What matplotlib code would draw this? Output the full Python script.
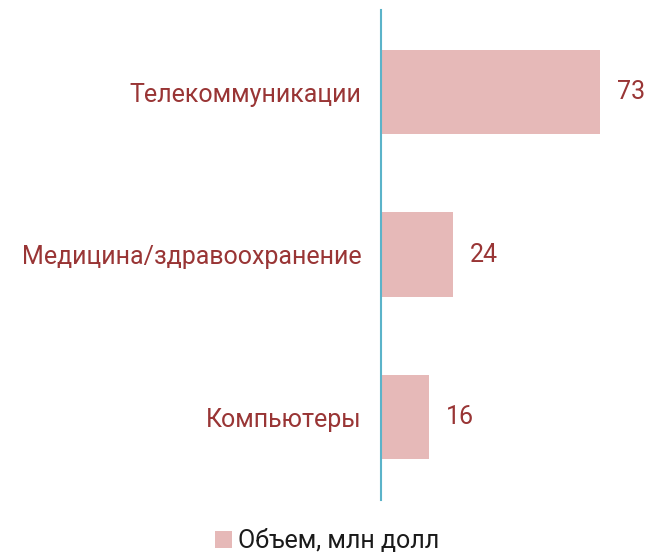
import matplotlib.pyplot as plt
from matplotlib.patches import Patch

categories = ["Телекоммуникации", "Медицина/здравоохранение", "Компьютеры"]
values = [73, 24, 16]
legend_label = "Объем, млн долл"

bar_color = "#e6b9b8"
text_color = "#993535"
axis_color = "#5bb3c9"

plt.rcParams["font.family"] = ["Roboto", "DejaVu Sans"]

fig = plt.figure(figsize=(6.5, 5.57), dpi=100)
ax = fig.add_axes([381 / 650, 57 / 557, 269 / 650, 490 / 557])

pos = list(range(len(categories)))
bars = ax.barh(pos, values, height=0.52, color=bar_color)

ax.set_xlim(0, 269 / 3)
ax.set_ylim(2.51, -0.505)

for b, v in zip(bars, values):
    ax.annotate(str(v), (b.get_width(), b.get_y() + b.get_height() / 2),
                xytext=(12, 0), textcoords="offset points",
                ha="left", va="center", fontsize=18, color=text_color)

ax.set_yticks(pos)
ax.set_yticklabels(categories, fontsize=18, color=text_color)
ax.tick_params(axis="y", length=0, pad=14)
ax.set_xticks([])

for s in ["top", "right", "bottom"]:
    ax.spines[s].set_visible(False)
ax.spines["left"].set_color(axis_color)
ax.spines["left"].set_linewidth(1.5)

handle = Patch(facecolor=bar_color, edgecolor="none")
fig.legend([handle], [legend_label], loc="center", bbox_to_anchor=(327 / 650, 1 - 541 / 557),
           frameon=False, fontsize=18, handlelength=0.7, handleheight=0.7,
           handletextpad=0.25, labelcolor="#1a1a1a")

fig.savefig("out.png", dpi=100)
